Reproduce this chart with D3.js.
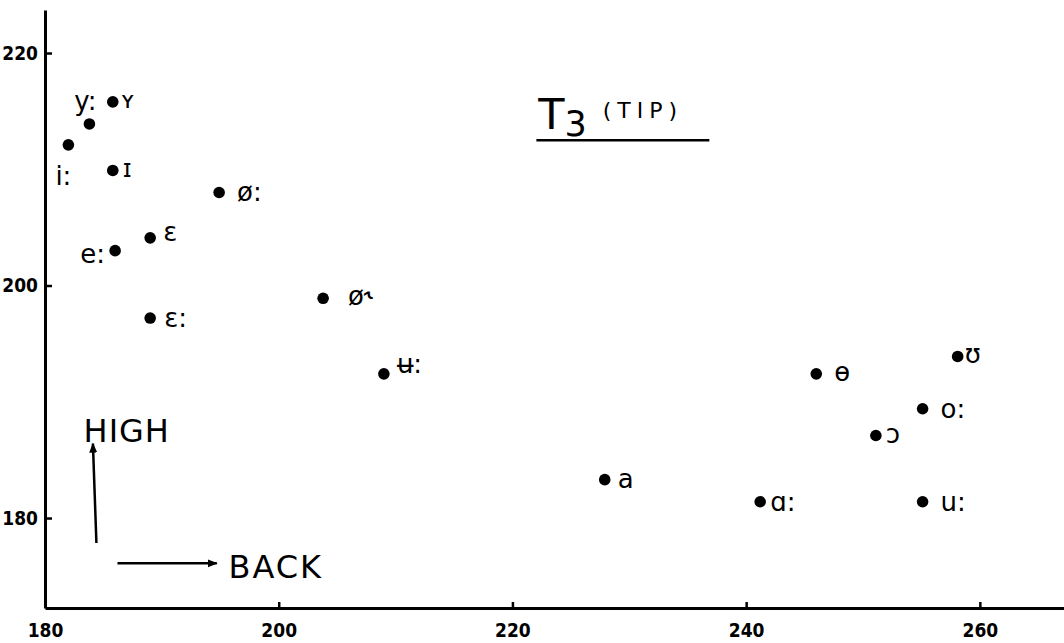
<!DOCTYPE html>
<html>
<head>
<meta charset="utf-8">
<script src="https://cdn.jsdelivr.net/npm/d3@7"></script>
<style>
  body { margin: 0; background: #fff; }
  .tick text { font-family: "DejaVu Sans Condensed", "DejaVu Sans", sans-serif; font-weight: bold; font-size: 19px; fill: #000; }
  .vowel { font-family: "DejaVu Sans", sans-serif; font-size: 26px; fill: #000; }
  .note { font-family: "DejaVu Sans", sans-serif; fill: #000; }
</style>
</head>
<body>
<svg></svg>
<script>
// vowels of the T3 (tip) plot
const VOWELS = ['i:', 'y:', 'ʏ', 'ɪ', 'e:', 'ɛ', 'ɛ:', 'ø:', 'ø˞', 'ʉ:', 'a', 'ɑ:', 'ɵ', 'ɔ', 'o:', 'u:', 'ʊ'];
const BACK_VALUES = [182, 183.8, 185.8, 185.8, 186, 189, 189, 194.9, 203.8, 209, 227.9, 241.2, 246, 251.1, 255.1, 255.1, 258.1];
const HIGH_VALUES = [212.1, 213.9, 215.8, 209.9, 203, 204.1, 197.2, 208, 198.9, 192.4, 183.3, 181.4, 192.4, 187.1, 189.4, 181.4, 193.9];
const X_TICKS = [180, 200, 220, 240, 260];
const Y_TICKS = [180, 200, 220];

const WIDTH = 1064, HEIGHT = 643;

const svg = d3.select('svg')
    .attr('width', WIDTH)
    .attr('height', HEIGHT);

const x = d3.scaleLinear().domain([180, 267.2]).range([45, 1064]);
const y = d3.scaleLinear().domain([172.26, 223.7]).range([608, 10]);

// AXES
const xAxis = svg.append('g')
    .attr('transform', `translate(0, ${y(172.26)})`)
    .call(d3.axisBottom(x).tickValues(X_TICKS).tickSize(-6).tickSizeOuter(0).tickPadding(16));

const yAxis = svg.append('g')
    .attr('transform', `translate(${x(180)}, 0)`)
    .call(d3.axisLeft(y).tickValues(Y_TICKS).tickSize(-7).tickSizeOuter(0).tickPadding(7));

[xAxis, yAxis].forEach(a => {
    a.select('.domain').attr('stroke', '#000').attr('stroke-width', 3);
    a.selectAll('.tick line').attr('stroke', '#000').attr('stroke-width', 2.5);
});
xAxis.selectAll('.tick text').attr('dy', '0.71em');

// label placement around each dot (px offsets)
const LABEL_POS = {
    'i:': [-5, 40, 'middle'], 'y:': [-4, -14, 'middle'], 'ʏ': [8, 6, 'start', 23],
    'ɪ': [10, 7, 'start', 24], 'e:': [-10, 12, 'end'], 'ɛ': [13, 3, 'start'],
    'ɛ:': [14, 9, 'start'], 'ø:': [18, 8, 'start'], 'ø˞': [25, 7, 'start'],
    'ʉ:': [13, -1, 'start'], 'a': [13, 8, 'start'], 'ɑ:': [10, 9, 'start'],
    'ɵ': [18, 7, 'start'], 'ɔ': [10, 8, 'start'], 'o:': [18, 9, 'start'],
    'u:': [18, 9, 'start'], 'ʊ': [7, 7, 'start']
};

const POINTS = VOWELS.map((v, i) => ({ vowel: v, back: BACK_VALUES[i], high: HIGH_VALUES[i] }));

// DOTS
svg.selectAll('.dot')
    .data(POINTS)
    .enter()
    .append('circle')
    .classed('dot', true)
    .attr('cx', d => x(d.back))
    .attr('cy', d => y(d.high))
    .attr('r', 5.8)
    .attr('fill', '#000');

// VOWEL LABELS
svg.selectAll('.vowel')
    .data(POINTS)
    .enter()
    .append('text')
    .classed('vowel', true)
    .attr('x', d => x(d.back) + LABEL_POS[d.vowel][0])
    .attr('y', d => y(d.high) + LABEL_POS[d.vowel][1])
    .attr('text-anchor', d => LABEL_POS[d.vowel][2])
    .style('font-size', d => (LABEL_POS[d.vowel][3] || 26) + 'px')
    .text(d => d.vowel);

// TITLE
const title = svg.append('text')
    .classed('note', true)
    .attr('x', x(222.2))
    .attr('y', y(213.5));
title.append('tspan').style('font-size', '43px').text('T');
title.append('tspan').style('font-size', '35px').attr('dy', 7).text('3');
title.append('tspan').style('font-size', '22px').attr('dx', 16).attr('dy', -18)
    .style('letter-spacing', '6px').text('(TIP)');

svg.append('line')
    .attr('x1', x(222.05)).attr('x2', x(236.85))
    .attr('y1', y(212.5)).attr('y2', y(212.5))
    .attr('stroke', '#000').attr('stroke-width', 2.5);

// DIRECTION ARROWS
svg.append('defs').append('marker')
    .attr('id', 'head')
    .attr('viewBox', '0 0 10 10')
    .attr('refX', 9).attr('refY', 5)
    .attr('markerWidth', 4).attr('markerHeight', 4)
    .attr('orient', 'auto')
    .append('path').attr('d', 'M0,1L10,5L0,9Z').attr('fill', '#000');

svg.append('line')
    .attr('x1', x(184.4)).attr('y1', y(177.85))
    .attr('x2', x(184.1)).attr('y2', y(186.4))
    .attr('stroke', '#000').attr('stroke-width', 2.5)
    .attr('marker-end', 'url(#head)');

svg.append('line')
    .attr('x1', x(186.2)).attr('y1', y(176.1))
    .attr('x2', x(194.7)).attr('y2', y(176.1))
    .attr('stroke', '#000').attr('stroke-width', 2.5)
    .attr('marker-end', 'url(#head)');

svg.append('text').classed('note', true)
    .attr('x', x(183.3)).attr('y', y(186.5))
    .style('font-size', '32px').style('letter-spacing', '1px')
    .text('HIGH');

svg.append('text').classed('note', true)
    .attr('x', x(195.7)).attr('y', y(174.8))
    .style('font-size', '32px').style('letter-spacing', '2px')
    .text('BACK');
</script>
</body>
</html>
